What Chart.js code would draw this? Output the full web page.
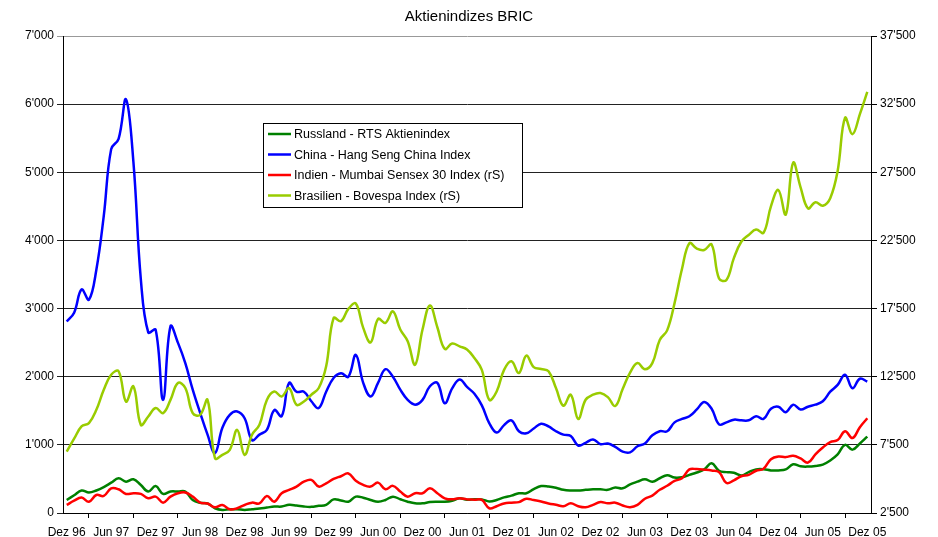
<!DOCTYPE html>
<html>
<head>
<meta charset="utf-8">
<script src="https://cdn.jsdelivr.net/npm/chart.js@4"></script>
<style>
  body { margin: 0; background: #fff; }
  #wrap { width: 938px; height: 537px; position: relative; }
</style>
</head>
<body>
<div id="wrap"><canvas id="bricChart"></canvas></div>
<script>
// Monatswerte Dez 96 - Dez 05
const tickLabels = ['Dez 96', 'Jun 97', 'Dez 97', 'Jun 98', 'Dez 98', 'Jun 99', 'Dez 99', 'Jun 00', 'Dez 00',
  'Jun 01', 'Dez 01', 'Jun 02', 'Dez 02', 'Jun 03', 'Dez 03', 'Jun 04', 'Dez 04', 'Jun 05', 'Dez 05'];
const monthNames = ['Jan', 'Feb', 'Mär', 'Apr', 'Mai', 'Jun', 'Jul', 'Aug', 'Sep', 'Okt', 'Nov', 'Dez'];

const russland = [190, 260, 330, 300, 330, 380, 445, 510, 460, 495, 410, 315, 395, 280, 315, 315, 315, 190, 150,
  140, 70, 45, 55, 55, 45, 55, 65, 80, 95, 95, 120, 110, 95, 90, 105, 120, 200, 185, 166, 240, 225, 191, 166,
  191, 240, 201, 166, 142, 142, 161, 166, 166, 181, 216, 195, 200, 200, 170, 190, 230, 255, 290, 290, 350, 395,
  390, 370, 340, 330, 330, 340, 348, 348, 340, 375, 362, 420, 460, 495, 460, 510, 555, 520, 525, 560, 595, 640,
  730, 620, 600, 590, 550, 600, 640, 642, 625, 625, 640, 715, 685, 681, 690, 710, 770, 860, 1000, 930, 1020, 1120];

const china = [2810, 2940, 3280, 3130, 3570, 4360, 5340, 5490, 6070, 5150, 3430, 2650, 2690, 1660, 2740, 2500,
  2200, 1810, 1470, 1150, 880, 1250, 1440, 1490, 1390, 1070, 1150, 1220, 1510, 1420, 1910, 1780, 1780, 1640,
  1540, 1780, 1980, 2050, 2000, 2320, 1910, 1710, 1910, 2110, 2000, 1810, 1660, 1590, 1660, 1860, 1910, 1610,
  1830, 1960, 1850, 1750, 1580, 1320, 1180, 1290, 1360, 1200, 1170, 1240, 1310, 1270, 1200, 1150, 1130, 990,
  1030, 1080, 1010, 1020, 970, 900, 890, 980, 1020, 1140, 1200, 1200, 1330, 1380, 1420, 1520, 1630, 1530, 1300,
  1330, 1370, 1360, 1360, 1420, 1380, 1530, 1560, 1480, 1590, 1520, 1560, 1590, 1640, 1780, 1880, 2030, 1830,
  1970, 1930];

const indien = [3090, 3400, 3630, 3330, 3820, 3750, 4310, 4240, 3900, 3950, 3900, 3580, 3700, 3260, 3700, 3950,
  4000, 3700, 3260, 3200, 2920, 3090, 2770, 2850, 3090, 3260, 3200, 3750, 3330, 3950, 4190, 4440, 4800, 4930,
  4440, 4680, 5000, 5200, 5400, 4870, 4560, 4440, 4730, 4240, 4490, 4070, 3700, 3950, 3950, 4320, 3950, 3580,
  3500, 3580, 3500, 3480, 3460, 2850, 3000, 3200, 3260, 3300, 3550, 3450, 3350, 3200, 3100, 3000, 3210, 3000,
  2920, 3100, 3300, 3210, 3260, 3050, 2930, 3100, 3550, 3780, 4200, 4500, 4850, 5050, 5700, 5720, 5680, 5620,
  5500, 4700, 4900, 5200, 5300, 5600, 5750, 6450, 6650, 6600, 6700, 6500, 6200, 6800, 7300, 7700, 7850, 8500,
  8000, 8800, 9450];

const brasilien = [7000, 7950, 8850, 9100, 10070, 11540, 12650, 12900, 10680, 11790, 8970, 9580, 10200, 9830,
  10800, 12040, 11670, 9830, 9700, 10800, 6520, 6760, 7130, 8600, 6760, 8240, 8970, 10800, 11420, 11050, 11670,
  10440, 10680, 11180, 11670, 13260, 16800, 16570, 17480, 17870, 16080, 15020, 16740, 16450, 17300, 15960, 15100,
  13380, 15960, 17720, 16130, 14540, 14930, 14730, 14500, 13870, 13000, 10800, 11420, 13000, 13630, 12770, 14050,
  13200, 13070, 12900, 11670, 10370, 11180, 9400, 10810, 11180, 11300, 11000, 10350, 11600, 12800, 13500, 13050,
  13500, 15200, 15900, 17900, 20400, 22300, 21900, 21800, 22200, 19700, 19600, 21200, 22400, 22900, 23300, 23060,
  25000, 26200, 24400, 28200, 26400, 24850, 25300, 25050, 25600, 27600, 31500, 30300, 31770, 33400];

// Kategorien: Monate ab Dez 1996
const categories = [];
for (let i = 0; i < russland.length; i++) {
  const m = (11 + i) % 12;
  const y = 96 + Math.floor((11 + i) / 12);
  categories.push(monthNames[m] + ' ' + String(y % 100).padStart(2, '0'));
}

const fontFam = "'Liberation Sans', Arial, sans-serif";

function fmt(v) {
  return String(v).replace(/\B(?=(\d{3})+(?!\d))/g, "'");
}

// Legende als Kasten im Diagramm
const boxLegend = {
  id: 'boxLegend',
  afterDraw(chart) {
    const ctx = chart.ctx;
    const x = 263, y = 123, w = 259, h = 84;
    ctx.save();
    ctx.fillStyle = '#fff';
    ctx.fillRect(x, y, w, h);
    ctx.strokeStyle = '#000';
    ctx.lineWidth = 1;
    ctx.strokeRect(x + 0.5, y + 0.5, w, h);
    ctx.font = '12.5px ' + fontFam;
    ctx.textBaseline = 'middle';
    chart.data.datasets.forEach((ds, i) => {
      const ly = y + 11 + i * 20.5;
      ctx.strokeStyle = ds.borderColor;
      ctx.lineWidth = 2.5;
      ctx.beginPath();
      ctx.moveTo(x + 5, ly);
      ctx.lineTo(x + 28, ly);
      ctx.stroke();
      ctx.fillStyle = '#000';
      ctx.fillText(ds.label, x + 31, ly + 1);
    });
    ctx.restore();
  }
};

const ctx = document.getElementById('bricChart').getContext('2d');
new Chart(ctx, {
  type: 'line',
  data: {
    labels: categories,
    datasets: [
      { label: 'Russland - RTS Aktienindex', data: russland, borderColor: '#008000', yAxisID: 'y', order: 4 },
      { label: 'China - Hang Seng China Index', data: china, borderColor: '#0000FF', yAxisID: 'y', order: 3 },
      { label: 'Indien - Mumbai Sensex 30 Index (rS)', data: indien, borderColor: '#FF0000', yAxisID: 'y1', order: 2 },
      { label: 'Brasilien - Bovespa Index (rS)', data: brasilien, borderColor: '#99CC00', yAxisID: 'y1', order: 1 }
    ]
  },
  options: {
    responsive: true,
    maintainAspectRatio: false,
    animation: false,
    layout: { padding: 0 },
    elements: {
      line: { borderWidth: 2.5, tension: 0.4, fill: false },
      point: { radius: 0 }
    },
    scales: {
      x: {
        offset: true,
        afterFit: (s) => { s.height = 24; },
        grid: {
          offset: true,
          drawOnChartArea: false,
          drawTicks: true,
          tickLength: 5,
          color: '#000'
        },
        border: { color: '#000' },
        ticks: {
          autoSkip: false,
          maxRotation: 0,
          padding: 7,
          color: '#000',
          font: { family: fontFam, size: 12 },
          callback: (v, i) => (i % 6 === 0 ? tickLabels[i / 6] : null)
        }
      },
      y: {
        position: 'left',
        min: 0,
        max: 7000,
        afterFit: (s) => { s.width = 63; },
        grid: {
          color: (c) => (c.tick && c.tick.value === 7000 ? '#999' : '#222'),
          tickLength: 6
        },
        border: { color: '#000' },
        ticks: {
          stepSize: 1000,
          padding: 3,
          color: '#000',
          font: { family: fontFam, size: 12 },
          callback: (v) => fmt(v)
        }
      },
      y1: {
        position: 'right',
        min: 2500,
        max: 37500,
        afterFit: (s) => { s.width = 67; },
        grid: { drawOnChartArea: false, tickLength: 6, color: '#000' },
        border: { color: '#000' },
        ticks: {
          stepSize: 5000,
          padding: 3,
          color: '#000',
          font: { family: fontFam, size: 12 },
          callback: (v) => fmt(v)
        }
      }
    },
    plugins: {
      legend: { display: false },
      tooltip: { enabled: false },
      title: {
        display: true,
        text: 'Aktienindizes BRIC',
        color: '#000',
        font: { family: fontFam, size: 15, weight: 'normal' },
        padding: { top: 8, bottom: 10 }
      }
    }
  },
  plugins: [boxLegend]
});
</script>
</body>
</html>
